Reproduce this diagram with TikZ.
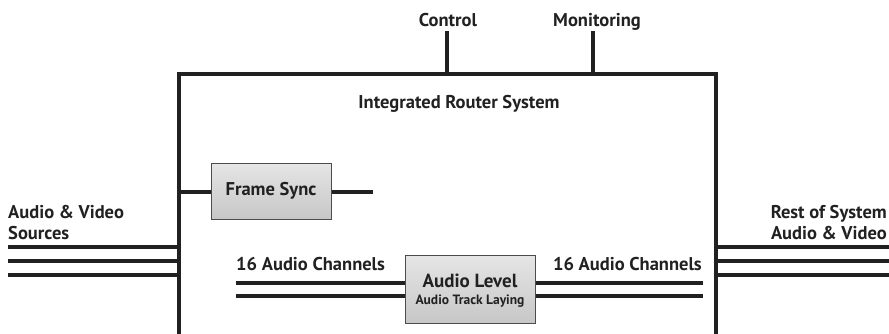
\documentclass[tikz,border=0pt]{standalone}
\usepackage{fontspec}
\setmainfont{PT Sans}
\begin{document}
\begin{tikzpicture}[x=1pt,y=-1pt,
  wire/.style={line width=3.2pt,color=black!87},
  blk/.style={draw=black!70,line width=1pt,top color=black!10,bottom color=black!22,inner sep=0pt,font=\bfseries,text=black!87},
  lbl/.style={inner sep=0pt,font=\bfseries\fontsize{18.5}{20}\selectfont,color=black!87}]
\useasboundingbox (0,0) rectangle (889,333);
% main box (open at the bottom)
\coordinate (bl) at (179,335);
\coordinate (tl) at (179,74);
\coordinate (tr) at (716,74);
\coordinate (br) at (716,335);
\draw[wire] (bl) -- (tl) -- (tr) -- (br);
\node[lbl,anchor=base] (title) at (459,108) {Integrated Router System};
% control / monitoring
\node[lbl,anchor=base] (ctl) at (448,26) {Control};
\node[lbl,anchor=base] (mon) at (597,26) {Monitoring};
\coordinate (ctlT) at (447,31);
\coordinate (ctlB) at (447,74);
\coordinate (monT) at (593,31);
\coordinate (monB) at (593,74);
\draw[wire] (ctlT) -- (ctlB);
\draw[wire] (monT) -- (monB);
% frame sync
\node[blk,minimum width=120pt,minimum height=56pt,font=\bfseries\fontsize{18.5}{20}\selectfont] (fs) at (271,191) {Frame Sync};
\coordinate (fsL) at (179,192);
\coordinate (fsR) at (373,192);
\draw[wire] (fsL) -- (fs.west|-fsL);
\draw[wire] (fs.east|-fsR) -- (fsR);
% audio level
\node[blk,minimum width=130pt,minimum height=68pt] (al) at (470,289) {};
\node[lbl,anchor=base,font=\bfseries\fontsize{19}{20}\selectfont] (alt) at (470,287) {Audio Level};
\node[lbl,anchor=base,font=\bfseries\fontsize{13.5}{14}\selectfont] (als) at (470,304) {Audio Track Laying};
\coordinate (alL1) at (236,283);
\coordinate (alL2) at (236,296);
\coordinate (alR1) at (703,283);
\coordinate (alR2) at (703,296);
\draw[wire] (alL1) -- (al.west|-alL1);
\draw[wire] (alL2) -- (al.west|-alL2);
\draw[wire] (al.east|-alR1) -- (alR1);
\draw[wire] (al.east|-alR2) -- (alR2);
\node[lbl,anchor=base west] (ch1) at (236,270) {16 Audio Channels};
\node[lbl,anchor=base east] (ch2) at (702,270) {16 Audio Channels};
% inputs
\node[lbl,anchor=base west] (src) at (8,218) {Audio \& Video};
\node[lbl,anchor=base west] (src2) at (8,239) {Sources};
\foreach \y/\n in {247/a,261/b,275/c}{
  \coordinate (in\n) at (8,\y);
  \coordinate (inE\n) at (179,\y);
  \draw[wire] (in\n) -- (inE\n);
  \coordinate (out\n) at (716,\y);
  \coordinate (outE\n) at (889,\y);
  \draw[wire] (out\n) -- (outE\n);
}
\node[lbl,anchor=base east] (dst) at (887,218) {Rest of System};
\node[lbl,anchor=base east] (dst2) at (887,239) {Audio \& Video};
\end{tikzpicture}
\end{document}
